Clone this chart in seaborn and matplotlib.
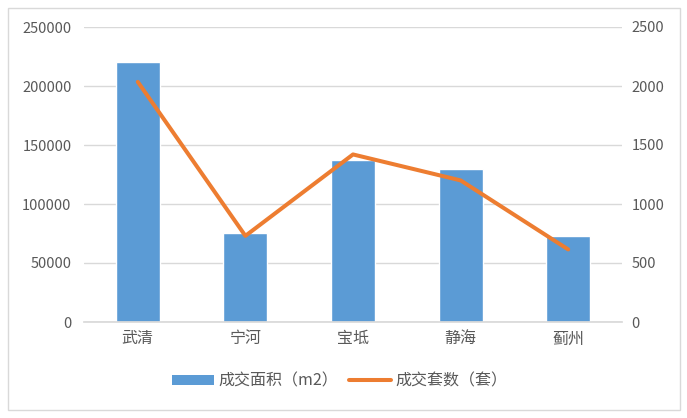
import matplotlib
matplotlib.use("Agg")
import matplotlib.pyplot as plt
import seaborn as sns
import numpy as np
import pandas as pd
from matplotlib.patches import Rectangle
from matplotlib.lines import Line2D

categories = ["武清", "宁河", "宝坻", "静海", "蓟州"]
area_values = [220000, 75500, 137000, 130000, 73000]
unit_values = [2035, 730, 1420, 1200, 615]
left_ticks = [0, 50000, 100000, 150000, 200000, 250000]
right_ticks = [0, 500, 1000, 1500, 2000, 2500]
bar_label = "成交面积（m2）"
line_label = "成交套数（套）"

sns.set_theme(style="white")
plt.rcParams['font.family'] = ['Noto Sans CJK SC', 'DejaVu Sans']

BLUE = "#5B9BD5"
ORANGE = "#ED7D31"
TXT = "#595959"
GRID = "#D9D9D9"

fig = plt.figure(figsize=(6.87, 4.18), dpi=100)
fig.patch.set_facecolor("white")
fig.patches.append(Rectangle((8/687, 1-410/418), 672/687, 402/418, transform=fig.transFigure,
                             fill=False, edgecolor=GRID, linewidth=1.0))

ax = fig.add_axes([84/687, 1-322/418, 538/687, 295/418])
df = pd.DataFrame({"cat": categories, "area": area_values, "units": unit_values})
sns.barplot(data=df, x="cat", y="area", color=BLUE, width=0.41, saturation=1, ax=ax, zorder=2)
ax.set_ylim(0, 250000)
ax.set_yticks(left_ticks)
ax.set_xlim(-0.5, len(categories) - 0.5)
ax.yaxis.grid(True, color=GRID, linewidth=1, zorder=0)
ax.set_axisbelow(True)
for s in ["top", "right", "left"]:
    ax.spines[s].set_visible(False)
ax.spines["bottom"].set_color(GRID)
ax.set_xlabel("")
ax.set_ylabel("")
ax.tick_params(axis="y", length=0, colors=TXT, labelsize=10.5, pad=9)
ax.tick_params(axis="x", length=0, colors=TXT, labelsize=11.5, pad=6)

ax2 = ax.twinx()
sns.lineplot(x=np.arange(len(categories)), y=df["units"].values, color=ORANGE, linewidth=2.9,
             ax=ax2, sort=False)
ax2.set_ylim(0, 2500)
ax2.set_yticks(right_ticks)
for s in ["top", "right", "left", "bottom"]:
    ax2.spines[s].set_visible(False)
ax2.tick_params(axis="y", length=0, colors=TXT, labelsize=10.5, pad=7)
ax2.set_ylabel("")

handles = [Rectangle((0, 0), 1, 1, facecolor=BLUE, edgecolor="none"),
           Line2D([0], [0], color=ORANGE, linewidth=2.9)]
fig.legend(handles, [bar_label, line_label], loc="center", bbox_to_anchor=(340/687, 1-381/418),
           ncol=2, frameon=False, fontsize=11.5, labelcolor=TXT, handlelength=2.6,
           handleheight=0.55, handletextpad=0.3, columnspacing=0.7)

fig.savefig("out.png", dpi=100)
